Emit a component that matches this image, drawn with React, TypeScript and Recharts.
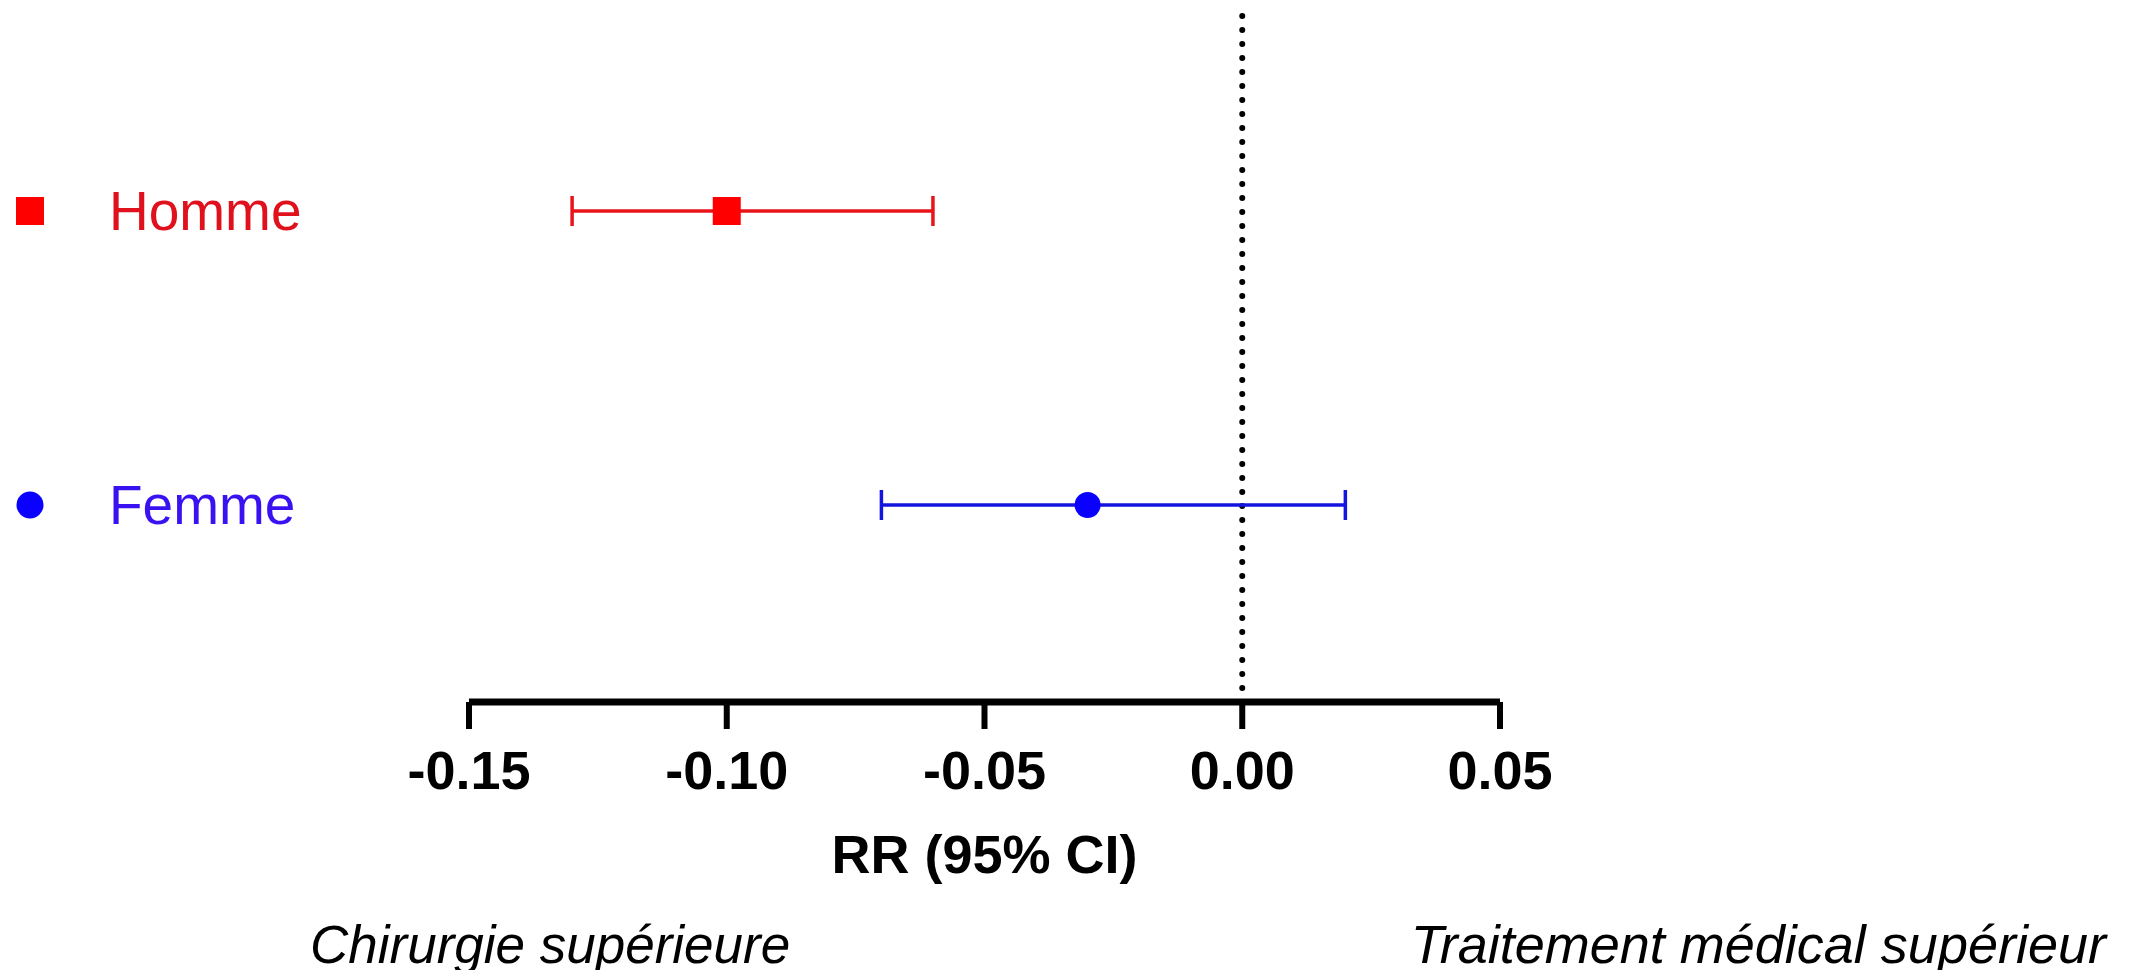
import {
  ErrorBar,
  ReferenceLine,
  Scatter,
  ScatterChart,
  XAxis,
  YAxis,
  Label,
} from "recharts"

const groups = ["Homme", "Femme"]
const estimates = [-0.1, -0.03]
const lowerCI = [-0.13, -0.07]
const upperCI = [-0.06, 0.02]
const rowPos = [2, 1]
const xTicks = [-0.15, -0.1, -0.05, 0, 0.05]

const markerColors = ["#ff0000", "#0a00ff"]
const barColors = ["#e8141a", "#1414e0"]
const textColors = ["#e0101c", "#3a12f2"]

const FONT = "'Liberation Sans', Arial, sans-serif"

const series = groups.map((name, i) => ({
  name,
  data: [
    {
      x: estimates[i],
      y: rowPos[i],
      err: [estimates[i] - lowerCI[i], upperCI[i] - estimates[i]],
    },
  ],
}))

function GroupTick(props: any) {
  const { y, payload } = props
  const i = rowPos.indexOf(payload.value)
  if (i < 0) return null
  return (
    <g>
      {i === 0 ? (
        <rect x={8} y={y - 14} width={28} height={28} fill={markerColors[i]} />
      ) : (
        <circle cx={22} cy={y} r={13.5} fill={markerColors[i]} />
      )}
      <text x={101} y={y} dy="0.34em" fontSize={55} fontFamily={FONT} fill={textColors[i]}>
        {groups[i]}
      </text>
    </g>
  )
}

const squareShape = (p: any) => (
  <rect x={p.cx - 14} y={p.cy - 14} width={28} height={28} fill={markerColors[0]} />
)
const circleShape = (p: any) => <circle cx={p.cx} cy={p.cy} r={13} fill={markerColors[1]} />

export default function App() {
  return (
    <div style={{ position: "relative", width: 2117, height: 962, fontFamily: FONT }}>
      <ScatterChart width={2117} height={962} margin={{ top: 6, right: 625, bottom: 0, left: 0 }}>
        <XAxis
          type="number"
          dataKey="x"
          domain={[-0.15, 0.05]}
          ticks={xTicks}
          interval={0}
          height={268}
          tickFormatter={(v: number) => v.toFixed(2)}
          axisLine={{ stroke: "#000", strokeWidth: 7 }}
          tickLine={{ stroke: "#000", strokeWidth: 6 }}
          tickSize={27}
          tickMargin={22}
          tick={{ fill: "#000", fontSize: 54, fontWeight: "bold", fontFamily: FONT }}
        >
          <Label
            value="RR (95% CI)"
            position="insideBottom"
            offset={97}
            fill="#000"
            fontSize={54}
            fontWeight="bold"
            fontFamily={FONT}
          />
        </XAxis>
        <YAxis
          type="number"
          dataKey="y"
          domain={[0.33, 2.67]}
          ticks={rowPos}
          interval={0}
          width={461}
          axisLine={false}
          tickLine={false}
          tick={<GroupTick />}
        />
        <ReferenceLine
          x={0}
          stroke="#000"
          strokeWidth={6}
          strokeDasharray="0 14"
          strokeLinecap="round"
        />
        {series.map((s, i) => (
          <Scatter
            key={s.name}
            name={s.name}
            data={s.data}
            shape={i === 0 ? squareShape : circleShape}
            isAnimationActive={false}
          >
            <ErrorBar
              dataKey="err"
              direction="x"
              width={15}
              strokeWidth={3.5}
              stroke={barColors[i]}
              isAnimationActive={false}
            />
          </Scatter>
        ))}
      </ScatterChart>
      <div
        style={{
          position: "absolute",
          left: 302,
          top: 910,
          fontSize: 53,
          lineHeight: "53px",
          fontStyle: "italic",
          whiteSpace: "nowrap",
          color: "#000",
        }}
      >
        Chirurgie supérieure
      </div>
      <div
        style={{
          position: "absolute",
          right: 19,
          top: 909,
          fontSize: 54,
          lineHeight: "54px",
          fontStyle: "italic",
          whiteSpace: "nowrap",
          color: "#000",
        }}
      >
        Traitement médical supérieur
      </div>
    </div>
  )
}
